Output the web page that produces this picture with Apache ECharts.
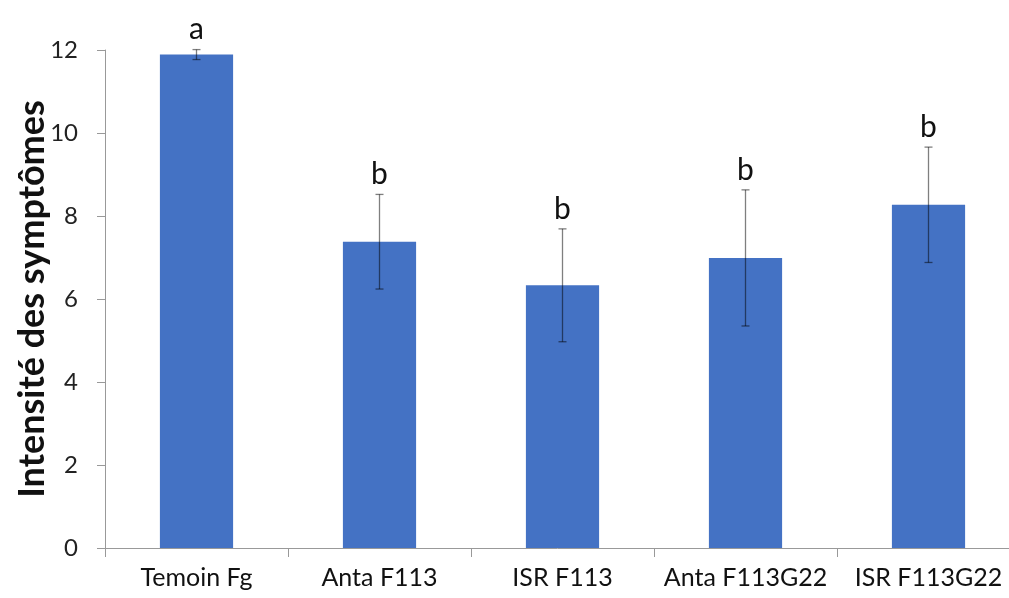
<!DOCTYPE html>
<html>
<head>
<meta charset="utf-8">
<script src="https://cdn.jsdelivr.net/npm/echarts@6/dist/echarts.min.js"></script>
<style>
  html, body { margin: 0; padding: 0; background: #fff; }
  #chart { width: 1009px; height: 598px; }
</style>
</head>
<body>
<div id="chart"></div>
<script>
const categories = ["Temoin Fg", "Anta F113", "ISR F113", "Anta F113G22", "ISR F113G22"];
const means = [11.89, 7.38, 6.33, 6.99, 8.27];
const errors = [0.12, 1.14, 1.36, 1.64, 1.39];
const letters = ["a", "b", "b", "b", "b"];
const yTicks = [0, 2, 4, 6, 8, 10, 12];

const chart = echarts.init(document.getElementById("chart"));
const font = "Lato, 'Open Sans', sans-serif";

const option = {
  animation: false,
  grid: { left: 105, right: -11, top: 50, bottom: 50, outerBoundsMode: "none", containLabel: false },
  xAxis: {
    type: "category",
    data: categories,
    axisLine: { lineStyle: { color: "#999", width: 1 } },
    axisTick: { show: true, length: 9, lineStyle: { color: "#999" } },
    axisLabel: { color: "#111", fontSize: 25, fontFamily: font, margin: 17, interval: 0 },
  },
  yAxis: {
    type: "value",
    min: yTicks[0],
    max: yTicks[yTicks.length - 1],
    interval: 2,
    name: "Intensité des symptômes",
    nameLocation: "middle",
    nameGap: 55,
    nameMoveOverlap: false,
    nameTextStyle: { color: "#111", fontSize: 36, fontWeight: "bold", fontFamily: font },
    axisLine: { show: true, lineStyle: { color: "#999", width: 1 } },
    axisTick: { show: true, length: 8, lineStyle: { color: "#999" } },
    axisLabel: { color: "#222", fontSize: 24, fontFamily: font, margin: 27 },
    splitLine: { show: false },
  },
  series: [
    {
      type: "bar",
      data: means,
      barWidth: "40%",
      itemStyle: { color: "#4472C4" },
    },
    {
      type: "custom",
      data: means.map((m, i) => [i, m - errors[i], m + errors[i]]),
      z: 10,
      renderItem: function (params, api) {
        const lo = api.coord([api.value(0), api.value(1)]);
        const hi = api.coord([api.value(0), api.value(2)]);
        const cap = 4;
        const style = { stroke: "rgba(0,0,0,0.5)", lineWidth: 1.3 };
        return {
          type: "group",
          children: [
            { type: "line", shape: { x1: hi[0], y1: hi[1], x2: lo[0], y2: lo[1] }, style: style },
            { type: "line", shape: { x1: hi[0] - cap, y1: hi[1], x2: hi[0] + cap, y2: hi[1] }, style: style },
            { type: "line", shape: { x1: lo[0] - cap, y1: lo[1], x2: lo[0] + cap, y2: lo[1] }, style: style },
            {
              type: "text",
              x: hi[0],
              y: hi[1] - 5,
              style: {
                text: letters[params.dataIndex],
                fill: "#111",
                font: "30px " + font,
                align: "center",
                verticalAlign: "bottom",
              },
            },
          ],
        };
      },
    },
  ],
};

chart.setOption(option);
</script>
</body>
</html>
